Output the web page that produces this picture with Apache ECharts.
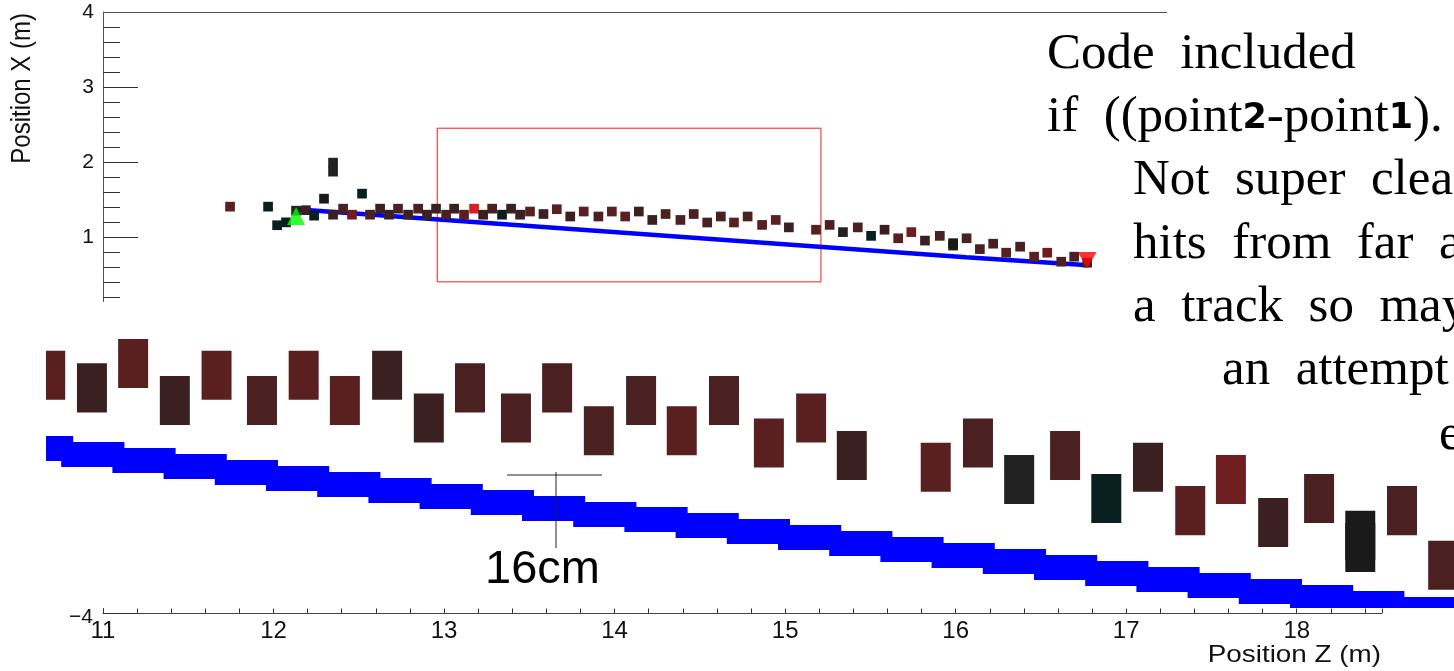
<!DOCTYPE html>
<html>
<head>
<meta charset="utf-8">
<title>Track hits</title>
<script src="https://cdn.jsdelivr.net/npm/echarts@6/dist/echarts.min.js"></script>
<style>
  html, body { margin: 0; padding: 0; background: #fff; }
  #main { width: 1454px; height: 671px; }
</style>
</head>
<body>
<div id="main"></div>
<script>
// hits: Position Z (m), Position X (m)
var hitZ = [
  11.745, 11.968, 12.021, 12.073, 12.132, 12.190, 12.238, 12.296, 12.349, 12.349, 12.349, 12.408, 12.460, 12.519, 12.566, 12.625,
  12.677, 12.730, 12.789, 12.848, 12.900, 12.953, 13.012, 13.059, 13.117, 13.176, 13.229, 13.282, 13.340, 13.393, 13.446,
  13.504, 13.583, 13.661, 13.740, 13.819, 13.905, 13.984, 14.062, 14.142, 14.221, 14.299, 14.386, 14.464, 14.543, 14.623, 14.700,
  14.780, 14.865, 14.945, 15.022, 15.181, 15.261, 15.339, 15.426, 15.504, 15.583, 15.663, 15.740, 15.820, 15.907, 15.985, 15.985,
  16.064, 16.142, 16.220, 16.296, 16.378, 16.460, 16.537, 16.619, 16.695, 16.771
];
var hitX = [
  1.409, 1.409, 1.162, 1.200, 1.355, 1.362, 1.289, 1.515, 1.995, 1.875, 1.302, 1.382, 1.302, 1.582, 1.302, 1.382,
  1.302, 1.382, 1.302, 1.382, 1.302, 1.382, 1.302, 1.382, 1.302, 1.382, 1.302, 1.382, 1.302, 1.382, 1.302,
  1.344, 1.311, 1.375, 1.278, 1.344, 1.278, 1.344, 1.278, 1.344, 1.232, 1.311, 1.232, 1.311, 1.198, 1.278, 1.198,
  1.278, 1.166, 1.232, 1.133, 1.102, 1.166, 1.070, 1.133, 1.020, 1.102, 0.988, 1.070, 0.957, 1.020, 0.923, 0.891,
  0.988, 0.844, 0.916, 0.796, 0.876, 0.743, 0.796, 0.676, 0.743, 0.663
];
// shade class of each hit (index into hitPalette)
var hitShade = [
  2, 5, 5, 5, 6, 0, 5, 7, 6, 6, 0, 1, 3, 5, 1, 0,
  0, 1, 0, 1, 0, 0, 1, 0, 2, 4, 0, 1, 5, 0, 0,
  2, 0, 2, 0, 2, 1, 2, 2, 0, 0, 1, 1, 1, 1, 1, 2,
  1, 2, 2, 0, 2, 1, 6, 1, 5, 0, 2, 3, 0, 1, 7, 7,
  1, 1, 1, 2, 1, 2, 3, 1, 1, 1
];

// fitted track
var trackZ = [12.15, 13.5, 16.06, 16.78];
var trackX = [1.37, 1.15, 0.735, 0.63];
var trackStart = [12.132, 1.284];
var trackEnd = [16.771, 0.70];

// zoom window marked on the overview and the range of the magnified strip
var zoomBoxZ = [12.96, 15.21];
var zoomBoxX = [0.408, 2.453];
var stripZ = [13.496, 16.1625];
var stripX = [0.7318, 1.537];

var hitPalette = ['#3a2020', '#4a2020', '#5a2020', '#6e1e20', '#d42020', '#0a2020', '#222222', '#1a1a1a'];
var HIT_DZ = 0.0568;
var HIT_DX = 0.129;
var STEP_W = 51.2;
var STEP_OVER = 12;
var STEP_PHASE = -36;
var BAND_H = 25;
var AXIS_FONT = 'Liberation Sans';
var SLIDE_FONT = 'Liberation Serif';

var chart = echarts.init(document.getElementById('main'));

var hitData = hitZ.map(function (z, i) { return [z, hitX[i], hitShade[i]]; });
var trackData = trackZ.map(function (z, i) { return [z, trackX[i]]; });
var trackSegments = trackZ.slice(1).map(function (z, i) {
  return [trackZ[i], trackX[i], z, trackX[i + 1]];
});

function renderHit(params, api) {
  var c = api.coord([api.value(0), api.value(1)]);
  var s = api.size([HIT_DZ, HIT_DX]);
  return {
    type: 'rect',
    shape: { x: c[0] - s[0] / 2, y: c[1] - s[1] / 2, width: s[0], height: s[1] },
    style: { fill: hitPalette[api.value(2)] }
  };
}

// magnified track: drawn as the pixel steps seen in the blown-up strip
function renderStrip(params, api) {
  var a = api.coord([api.value(0), api.value(1)]);
  var b = api.coord([api.value(2), api.value(3)]);
  var box = params.coordSys;
  var kids = [];
  var kTo = Math.ceil((box.width - STEP_PHASE) / STEP_W) + 2;
  for (var k = -2; k <= kTo; k++) {
    var x0 = box.x + STEP_PHASE + k * STEP_W;
    var cx = x0 + (STEP_W + STEP_OVER) / 2;
    if (cx < a[0] || cx >= b[0]) continue;
    var cy = a[1] + (b[1] - a[1]) * (cx - a[0]) / (b[0] - a[0]);
    kids.push({
      type: 'rect',
      shape: { x: x0, y: Math.round(cy - BAND_H / 2), width: STEP_W + STEP_OVER, height: BAND_H },
      style: { fill: '#0000ff' }
    });
  }
  return { type: 'group', children: kids };
}

function slideLine(x, y, text) {
  return {
    type: 'text', x: x, y: y, z: 30,
    style: { text: text, fontFamily: SLIDE_FONT, fontSize: 51, fill: '#000', verticalAlign: 'middle' }
  };
}

var option = {
  animation: false,
  backgroundColor: '#ffffff',
  grid: [
    { left: 103, top: 12, width: 1279, height: 601 },
    { left: 46, top: 302, width: 1408, height: 306, show: true, backgroundColor: '#ffffff', borderWidth: 0, z: 5 }
  ],
  xAxis: [
    {
      gridIndex: 0, type: 'value', min: 11, max: 18.5, interval: 1,
      axisLine: { onZero: false, lineStyle: { color: '#444', width: 1 } },
      axisTick: { inside: true, length: 4.5, lineStyle: { color: '#333' } },
      minorTick: { show: true, splitNumber: 5, length: 4.5, lineStyle: { color: '#333' } },
      axisLabel: { fontFamily: AXIS_FONT, fontSize: 24, color: '#111', margin: 6, showMaxLabel: false },
      splitLine: { show: false }
    },
    { gridIndex: 1, type: 'value', min: stripZ[0], max: stripZ[1], show: false }
  ],
  yAxis: [
    {
      gridIndex: 0, type: 'value', min: -4, max: 4, interval: 1,
      axisLine: { show: true, onZero: false, lineStyle: { color: '#555', width: 1 } },
      axisTick: { inside: true, length: 35, lineStyle: { color: '#333' } },
      minorTick: { show: true, splitNumber: 5, length: 17, lineStyle: { color: '#333' } },
      axisLabel: {
        fontFamily: AXIS_FONT, fontSize: 21, color: '#111', margin: 9,
        formatter: function (v) { return v >= 1 ? String(v) : ''; }
      },
      splitLine: { show: false }
    },
    {
      gridIndex: 0, type: 'value', min: -4, max: 4, interval: 1, position: 'left', offset: 0, z: 20,
      axisLine: { show: false }, axisTick: { show: false }, splitLine: { show: false },
      axisLabel: {
        fontFamily: AXIS_FONT, fontSize: 21, color: '#111', margin: 10,
        verticalAlign: 'top', lineHeight: 8,
        formatter: function (v) { return v === -4 ? '\u22124' : ''; }
      }
    },
    { gridIndex: 1, type: 'value', min: stripX[0], max: stripX[1], show: false }
  ],
  series: [
    {
      name: 'track',
      type: 'line',
      xAxisIndex: 0, yAxisIndex: 0,
      data: trackData,
      symbol: 'none',
      z: 2,
      lineStyle: { color: '#0000ff', width: 4.5 },
      markArea: {
        silent: true,
        itemStyle: { color: 'rgba(0,0,0,0)', borderColor: '#f01c1c', borderWidth: 1 },
        data: [[{ coord: [zoomBoxZ[0], zoomBoxX[1]] }, { coord: [zoomBoxZ[1], zoomBoxX[0]] }]]
      },
      markLine: {
        silent: true,
        symbol: ['none', 'none'],
        label: { show: false },
        lineStyle: { color: '#555', width: 1, type: 'solid' },
        data: [[{ coord: [11, 4] }, { coord: [17.24, 4] }]]
      }
    },
    {
      name: 'hits',
      type: 'custom',
      xAxisIndex: 0, yAxisIndex: 0,
      z: 3,
      renderItem: renderHit,
      encode: { x: 0, y: 1 },
      data: hitData
    },
    {
      name: 'start',
      type: 'scatter',
      xAxisIndex: 0, yAxisIndex: 0,
      z: 4,
      symbol: 'triangle',
      symbolSize: 18,
      itemStyle: { color: '#00ff00' },
      data: [trackStart]
    },
    {
      name: 'end',
      type: 'scatter',
      xAxisIndex: 0, yAxisIndex: 0,
      z: 4,
      symbol: 'triangle',
      symbolRotate: 180,
      symbolSize: [19, 16],
      itemStyle: { color: '#ff0000' },
      data: [trackEnd]
    },
    {
      name: 'track zoom',
      type: 'custom',
      xAxisIndex: 1, yAxisIndex: 2,
      z: 10,
      clip: true,
      renderItem: renderStrip,
      encode: { x: [0, 2], y: [1, 3] },
      data: trackSegments
    },
    {
      name: 'hits zoom',
      type: 'custom',
      xAxisIndex: 1, yAxisIndex: 2,
      z: 11,
      clip: true,
      renderItem: renderHit,
      encode: { x: 0, y: 1 },
      data: hitData
    }
  ],
  graphic: [
    {
      type: 'text', x: 23, y: 13, rotation: Math.PI / 2, scaleY: 1.12, z: 30,
      style: { text: 'Position X (m)', fontFamily: AXIS_FONT, fontSize: 24, fill: '#111', align: 'right', verticalAlign: 'middle' }
    },
    {
      type: 'text', x: 1381, y: 655, scaleX: 1.16, z: 30,
      style: { text: 'Position Z (m)', fontFamily: AXIS_FONT, fontSize: 24, fill: '#111', align: 'right', verticalAlign: 'middle' }
    },
    // 16 cm scale cross on the magnified strip
    { type: 'line', z: 30, shape: { x1: 507, y1: 475, x2: 602, y2: 475 }, style: { stroke: '#222', lineWidth: 1 } },
    { type: 'line', z: 30, shape: { x1: 556, y1: 472, x2: 556, y2: 548 }, style: { stroke: '#222', lineWidth: 1 } },
    {
      type: 'text', x: 485, y: 570, z: 30,
      style: { text: '16cm', fontFamily: AXIS_FONT, fontSize: 47, fill: '#000', align: 'left', verticalAlign: 'middle' }
    },
    // slide notes
    slideLine(1047, 55, 'Code  included'),
    {
      type: 'text', x: 1047, y: 118, z: 30,
      style: {
        text: '{s|if  ((point}{d|2}{s|-point}{d|1}{s|).}',
        verticalAlign: 'middle',
        rich: {
          s: { fontFamily: SLIDE_FONT, fontSize: 51, fill: '#000' },
          d: { fontFamily: 'DejaVu Sans', fontWeight: 'bold', fontSize: 35, fill: '#000', padding: [2, 0, 0, 0] }
        }
      }
    },
    slideLine(1133, 181, 'Not  super  clea'),
    slideLine(1133, 245, 'hits  from  far  a'),
    slideLine(1133, 308, 'a  track  so  may'),
    slideLine(1222, 371, 'an  attempt'),
    slideLine(1439, 436, 'e')
  ]
};

chart.setOption(option);
</script>
</body>
</html>
